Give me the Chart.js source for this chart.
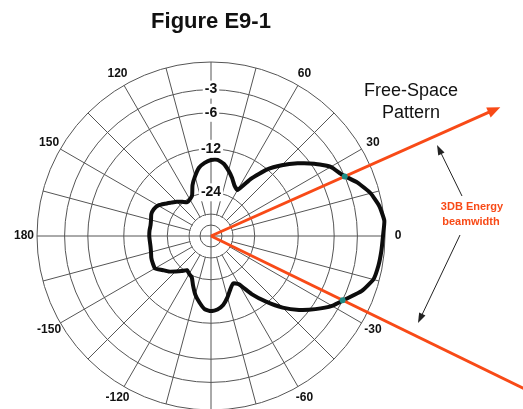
<!DOCTYPE html>
<html>
<head>
<meta charset="utf-8">
<script src="https://cdn.jsdelivr.net/npm/chart.js@4.4.1/dist/chart.umd.min.js"></script>
<style>
    html, body { margin: 0; padding: 0; background: #fff; overflow: hidden; }
    #wrap { width: 523px; height: 425px; }
</style>
</head>
<body>
<div id="wrap"><canvas id="grafico"></canvas></div>
<script>
// azimuth of every sample, going clockwise from the top of the plot
var angles = [90, 85, 80, 75, 70, 65, 60, 55, 50, 45, 40, 35, 30, 25, 20, 15, 10, 5,
    0, -5, -10, -15, -20, -25, -30, -35, -40, -45, -50, -55, -60, -65, -70, -75, -80, -85,
    -90, -95, -100, -105, -110, -115, -120, -125, -130, -135, -140, -145, -150, -155, -160, -165, -170, -175,
    180, 175, 170, 165, 160, 155, 150, 145, 140, 135, 130, 125, 120, 115, 110, 105, 100, 95];

// free-space pattern, dB below the main lobe
var patternDb = [-14.4, -14.3, -15.0, -16.4, -18.0, -19.8, -20.6, -15.8, -12.1, -9.6, -7.5, -5.6, -4.0, -3.2, -1.9, -0.9, -0.3, 0,
    -0.2, -0.3, -0.4, -0.6, -1.4, -2.7, -3.8, -5.4, -7.2, -9.4, -12.3, -15.6, -19.8, -20.9, -19.5, -17.5, -15.8, -14.9,
    -14.6, -15.0, -16.5, -18.3, -20.8, -23.3, -24.0, -24.8, -23.2, -21.6, -19.9, -18.7, -17.2, -17.3, -17.5, -17.9, -18.1, -18.1,
    -18.0, -18.0, -18.1, -17.9, -17.5, -17.6, -18.2, -19.6, -21.0, -22.2, -23.6, -25.0, -24.6, -23.6, -20.3, -18.0, -16.0, -15.0];

// rings of the log-periodic grid and the ones that get a label
var ringDb = [-48, -36, -24, -12, -6, -3, 0];
var ringLabels = ['', '', '-24', '-12', '-6', '-3', ''];

// half power points of the main lobe
var beamAngles = [24, -26];
var beamDb = -3;

// log-periodic radius: 2 dB = 0.89 of the radius
function dbToR(db) {
    return Math.pow(10, db / 40);
}

function shownLabel(i) {
    var a = angles[i];
    return a % 30 === 0 && Math.abs(a) !== 90;
}

function arrowHead(c, x1, y1, x2, y2, len, half) {
    var ang = Math.atan2(y2 - y1, x2 - x1);
    c.beginPath();
    c.moveTo(x2, y2);
    c.lineTo(x2 - len * Math.cos(ang) + half * Math.sin(ang), y2 - len * Math.sin(ang) - half * Math.cos(ang));
    c.lineTo(x2 - len * Math.cos(ang) - half * Math.sin(ang), y2 - len * Math.sin(ang) + half * Math.cos(ang));
    c.closePath();
    c.fill();
}

// clear the middle of the grid: only the cross and the inner ring reach the centre
var hub = {
    id: 'hub',
    beforeDatasetsDraw: function (chart) {
        var r = chart.scales.r;
        var c = chart.ctx;
        var cx = r.xCenter, cy = r.yCenter;
        var outer = r.getDistanceFromCenterForValue(dbToR(ringDb[1]));
        var inner = r.getDistanceFromCenterForValue(dbToR(ringDb[0]));
        c.save();
        c.fillStyle = '#fff';
        c.beginPath();
        c.arc(cx, cy, outer - 0.6, 0, 2 * Math.PI);
        c.fill();
        c.strokeStyle = '#555';
        c.lineWidth = 1;
        c.beginPath();
        c.arc(cx, cy, inner, 0, 2 * Math.PI);
        c.moveTo(cx - outer, cy);
        c.lineTo(cx + outer, cy);
        c.moveTo(cx, cy - outer);
        c.lineTo(cx, cy + outer);
        c.stroke();
        c.restore();
    }
};

// azimuth labels, beamwidth lines, 3 dB points and the side notes
var notes = {
    id: 'notes',
    afterDatasetsDraw: function (chart) {
        var r = chart.scales.r;
        var c = chart.ctx;
        var cx = r.xCenter, cy = r.yCenter;
        var lengths = [1.82, 2.1];
        c.save();

        c.fillStyle = '#111';
        c.textAlign = 'center';
        c.textBaseline = 'middle';
        c.font = 'bold 12px "Liberation Sans", Arial, sans-serif';
        angles.forEach(function (a, i) {
            if (!shownLabel(i)) return;
            var p = r.getPointPosition(i, r.drawingArea + 13);
            c.fillText(String(a), p.x, p.y);
        });

        c.strokeStyle = '#f84a17';
        c.fillStyle = '#f84a17';
        c.lineWidth = 3;
        beamAngles.forEach(function (a, i) {
            var t = a * Math.PI / 180;
            var d = lengths[i] * r.drawingArea;
            var x = cx + d * Math.cos(t), y = cy - d * Math.sin(t);
            c.beginPath();
            c.moveTo(cx, cy);
            c.lineTo(x - 8 * Math.cos(t), y + 8 * Math.sin(t));
            c.stroke();
            arrowHead(c, cx, cy, x, y, 13, 5.5);
        });

        c.fillStyle = '#1d8c86';
        beamAngles.forEach(function (a) {
            var t = a * Math.PI / 180;
            var d = r.getDistanceFromCenterForValue(dbToR(beamDb));
            c.beginPath();
            c.arc(cx + d * Math.cos(t), cy - d * Math.sin(t), 3, 0, 2 * Math.PI);
            c.fill();
        });

        c.strokeStyle = '#222';
        c.fillStyle = '#222';
        c.lineWidth = 1;
        c.beginPath();
        c.moveTo(462, 196);
        c.lineTo(439, 149);
        c.moveTo(460, 235);
        c.lineTo(420, 319);
        c.stroke();
        arrowHead(c, 462, 196, 437, 145, 10, 3.5);
        arrowHead(c, 460, 235, 418, 323, 10, 3.5);

        c.fillStyle = '#111';
        c.font = '18px "Liberation Sans", Arial, sans-serif';
        c.fillText('Free-Space', 411, 91);
        c.fillText('Pattern', 411, 113);

        c.fillStyle = '#f84a17';
        c.font = 'bold 11px "Liberation Sans", Arial, sans-serif';
        c.fillText('3DB Energy', 472, 207);
        c.fillText('beamwidth', 471, 222);
        c.restore();
    }
};

Chart.defaults.font.family = '"Liberation Sans", Arial, sans-serif';
Chart.defaults.color = '#111';

var ctx = document.getElementById('grafico');
var myChart = new Chart(ctx, {
    type: 'radar',
    data: {
        labels: angles,
        datasets: [{
            label: 'Free-Space Pattern',
            data: patternDb.map(dbToR),
            borderColor: '#0d0d0d',
            borderWidth: 4,
            backgroundColor: 'rgba(0,0,0,0)',
            fill: false,
            tension: 0.15,
            pointRadius: 0
        }]
    },
    options: {
        responsive: true,
        maintainAspectRatio: false,
        animation: false,
        layout: {
            padding: { left: 28, right: 129, top: 0, bottom: 6 }
        },
        plugins: {
            legend: { display: false },
            tooltip: { enabled: false },
            title: {
                display: true,
                text: 'Figure E9-1',
                color: '#111',
                font: { size: 22, weight: 'bold' },
                padding: { top: 9, bottom: 17.6 }
            }
        },
        scales: {
            r: {
                min: 0,
                max: 1,
                startAngle: 0,
                afterBuildTicks: function (scale) {
                    scale.ticks = [{ value: 0 }].concat(ringDb.map(function (d) {
                        return { value: dbToR(d) };
                    }));
                },
                grid: {
                    circular: true,
                    color: '#555',
                    lineWidth: 1
                },
                angleLines: {
                    color: function (c) {
                        return angles[c.index] % 15 === 0 ? '#555' : 'rgba(0,0,0,0)';
                    },
                    lineWidth: function (c) {
                        return angles[c.index] % 15 === 0 ? 1 : 0;
                    }
                },
                ticks: {
                    color: '#111',
                    font: { size: 14, weight: 'bold' },
                    backdropPadding: 2,
                    backdropColor: function (c) {
                        return c.tick && c.tick.label ? '#fff' : 'rgba(0,0,0,0)';
                    },
                    callback: function (value, index) {
                        return index === 0 ? '' : ringLabels[index - 1];
                    }
                },
                pointLabels: {
                    display: false
                }
            }
        }
    },
    plugins: [hub, notes]
});
</script>
</body>
</html>
